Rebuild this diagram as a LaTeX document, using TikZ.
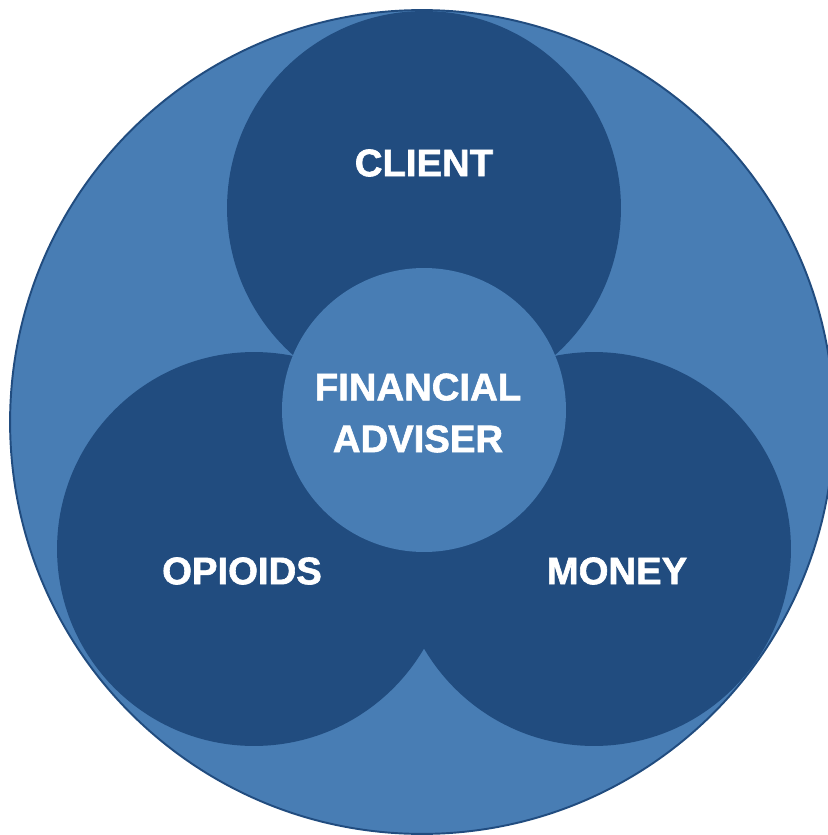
\documentclass[tikz,border=0pt]{standalone}
\usepackage{fontspec}
\setmainfont{Liberation Sans}[BoldFeatures={FakeBold=1.6}]
\usepackage{xcolor}
\usepackage{tikz}
\usetikzlibrary{positioning}

\definecolor{paleblue}{RGB}{72,125,180}
\definecolor{deepblue}{RGB}{33,76,127}

\tikzset{
  disc/.style={circle, inner sep=0pt, minimum size=7.88cm, fill=deepblue},
  tagtext/.style={text=white, align=center,
    font=\fontsize{21.8}{29.5}\selectfont\bfseries}
}

\begin{document}
\begin{tikzpicture}[x=0.02cm, y=-0.02cm]
\useasboundingbox (0,0) rectangle (828,835);

% Outer ring
\node[circle, inner sep=0pt, minimum size=16.48cm, fill=paleblue,
      draw=deepblue, line width=1.1pt] (outer) at (422,422) {};

% Three overlapping circles
\node[disc] (client) at (424,208) {};
\node[disc] (opioids) at (254,549) {};
\node[disc] (money) at (594,549) {};

% Centre circle
\node[circle, inner sep=0pt, minimum size=5.68cm, fill=paleblue] (adviser) at (424,410) {};

% Labels
\node[tagtext] (clientlbl) at (424,163) {CLIENT};
\node[tagtext] (adviserlbl) at (418,413) {FINANCIAL\\ADVISER};
\node[tagtext] (opioidslbl) at (242,571) {OPIOIDS};
\node[tagtext] (moneylbl) at (617,571) {MONEY};

\end{tikzpicture}
\end{document}
